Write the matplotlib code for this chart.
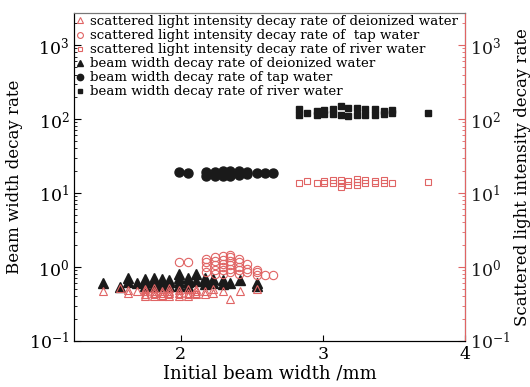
import matplotlib
matplotlib.use('Agg')
from matplotlib import pyplot as plt
from matplotlib.ticker import LogLocator, NullFormatter

plt.rcParams['font.family'] = ['DejaVu Serif']
plt.rcParams['mathtext.fontset'] = 'dejavuserif'

# beam width decay rate (black, left axis)
x_bw_di = [1.45, 1.57, 1.63, 1.63, 1.69, 1.75, 1.75, 1.75, 1.81, 1.81, 1.81,
           1.87, 1.87, 1.87, 1.92, 1.92, 1.92, 1.99, 1.99, 1.99, 1.99,
           2.05, 2.05, 2.05, 2.11, 2.11, 2.17, 2.17, 2.17, 2.23, 2.23,
           2.30, 2.30, 2.35, 2.42, 2.54, 2.54]
y_bw_di = [0.60, 0.53, 0.62, 0.70, 0.60, 0.55, 0.62, 0.68, 0.55, 0.63, 0.72,
           0.55, 0.62, 0.68, 0.55, 0.62, 0.66, 0.55, 0.63, 0.72, 0.80,
           0.55, 0.63, 0.72, 0.65, 0.80, 0.58, 0.66, 0.72, 0.60, 0.68,
           0.58, 0.66, 0.60, 0.66, 0.55, 0.60]

x_bw_tap = [1.99, 2.05, 2.18, 2.18, 2.24, 2.24, 2.30, 2.30, 2.35, 2.35,
            2.41, 2.41, 2.47, 2.47, 2.54, 2.59, 2.65]
y_bw_tap = [19.5, 18.5, 17.0, 19.5, 17.0, 19.5, 17.0, 20.0, 17.0, 20.0,
            17.5, 20.0, 18.0, 19.5, 18.5, 18.5, 18.5]

x_bw_river = [2.83, 2.83, 2.89, 2.96, 2.96, 3.01, 3.01, 3.07, 3.07, 3.13, 3.13,
              3.18, 3.18, 3.24, 3.24, 3.30, 3.30, 3.37, 3.37, 3.43, 3.43,
              3.49, 3.49, 3.74]
y_bw_river = [115, 135, 122, 115, 130, 118, 132, 118, 135, 112, 150,
              110, 140, 112, 140, 112, 135, 115, 135, 118, 130,
              120, 132, 122]

# scattered light intensity decay rate (red, right axis)
x_sl_di = [1.45, 1.57, 1.63, 1.63, 1.69, 1.75, 1.75, 1.75, 1.75,
           1.81, 1.81, 1.81, 1.81, 1.87, 1.87, 1.87, 1.92, 1.92, 1.92, 1.92,
           1.99, 1.99, 1.99, 2.05, 2.05, 2.05, 2.11, 2.11, 2.11,
           2.17, 2.17, 2.23, 2.23, 2.30, 2.35, 2.42, 2.54]
y_sl_di = [0.48, 0.52, 0.45, 0.49, 0.47, 0.40, 0.43, 0.47, 0.50,
           0.41, 0.44, 0.48, 0.52, 0.40, 0.44, 0.48, 0.40, 0.44, 0.48, 0.52,
           0.41, 0.45, 0.49, 0.40, 0.45, 0.50, 0.43, 0.47, 0.50,
           0.43, 0.48, 0.45, 0.50, 0.47, 0.37, 0.47, 0.50]

x_sl_tap = [1.99, 2.05, 2.18, 2.18, 2.18, 2.18, 2.24, 2.24, 2.24, 2.24, 2.24,
            2.30, 2.30, 2.30, 2.30, 2.30, 2.30, 2.35, 2.35, 2.35, 2.35, 2.35, 2.35,
            2.41, 2.41, 2.41, 2.41, 2.41, 2.47, 2.47, 2.47,
            2.54, 2.54, 2.54, 2.59, 2.65]
y_sl_tap = [1.17, 1.17, 0.85, 1.0, 1.15, 1.3, 0.8, 0.92, 1.05, 1.2, 1.35,
            0.8, 0.9, 1.0, 1.1, 1.25, 1.4, 0.85, 0.95, 1.05, 1.2, 1.35, 1.45,
            0.8, 0.9, 1.0, 1.15, 1.3, 0.85, 0.95, 1.1,
            0.78, 0.85, 0.92, 0.78, 0.78]

x_sl_river = [1.75, 1.81, 1.87, 1.92, 1.99, 2.05, 2.11,
              2.83, 2.89, 2.96, 3.01, 3.01, 3.07, 3.07, 3.13, 3.13, 3.13,
              3.18, 3.18, 3.24, 3.24, 3.24, 3.30, 3.30, 3.37, 3.37,
              3.43, 3.43, 3.49, 3.74]
y_sl_river = [0.42, 0.42, 0.41, 0.42, 0.42, 0.42, 0.43,
              13.5, 14.5, 13.8, 13.5, 14.5, 13.5, 14.8, 12.2, 13.5, 15.0,
              13.0, 14.5, 13.0, 14.0, 15.5, 13.5, 14.8, 13.5, 14.5,
              13.5, 15.0, 13.5, 14.0]

red = '#e06464'
blk = '#1a1a1a'

fig = plt.figure(figsize=(5.3, 3.87), dpi=100)
ax = fig.add_axes([0.140, 0.119, 0.737, 0.847])
ax2 = ax.twinx()

h4, = ax.plot(x_bw_di, y_bw_di, '^', ms=6.5, color=blk, ls='none',
              label='beam width decay rate of deionized water')
h5, = ax.plot(x_bw_tap, y_bw_tap, 'o', ms=6.5, color=blk, ls='none',
              label='beam width decay rate of tap water')
h6, = ax.plot(x_bw_river, y_bw_river, 's', ms=5, color=blk, ls='none',
              label='beam width decay rate of river water')

h1, = ax2.plot(x_sl_di, y_sl_di, '^', ms=6, mfc='none', mec=red, mew=0.8, ls='none',
               label='scattered light intensity decay rate of deionized water')
h2, = ax2.plot(x_sl_tap, y_sl_tap, 'o', ms=6, mfc='none', mec=red, mew=0.8, ls='none',
               label='scattered light intensity decay rate of  tap water')
h3, = ax2.plot(x_sl_river, y_sl_river, 's', ms=5, mfc='none', mec=red, mew=0.8, ls='none',
               label='scattered light intensity decay rate of river water')

for a in (ax, ax2):
    a.set_yscale('log')
    a.set_ylim(0.1, 2700)
    a.yaxis.set_major_locator(LogLocator(base=10, numticks=10))
    a.yaxis.set_minor_locator(LogLocator(base=10, subs=range(2, 10), numticks=10))
    a.yaxis.set_minor_formatter(NullFormatter())
    a.tick_params(axis='y', which='both', direction='in', labelsize=12.5)
    a.tick_params(axis='y', which='major', length=5)
    a.tick_params(axis='y', which='minor', length=2.5)

ax.set_xlim(1.25, 4)
ax.set_xticks([2, 3, 4])
ax.tick_params(axis='x', direction='in', labelsize=12.5, length=4)

ax2.tick_params(axis='y', which='both', colors=red, labelcolor=blk)
ax2.spines['right'].set_color(red)
ax2.spines['top'].set_color('#777777')
ax.spines['top'].set_color('#777777')

ax.set_xlabel('Initial beam width /mm', fontsize=13, labelpad=1)
ax.set_ylabel('Beam width decay rate', fontsize=12, labelpad=4)
ax2.set_ylabel('Scattered light intensity decay rate', fontsize=12, labelpad=3)

ax2.legend(handles=[h1, h2, h3, h4, h5, h6], loc='upper left', frameon=False,
           fontsize=9.6, handlelength=0.6, handletextpad=0.4, labelspacing=0.08,
           borderaxespad=0.0, borderpad=0.15, markerscale=0.7)

plt.savefig('out.png', dpi=100)
